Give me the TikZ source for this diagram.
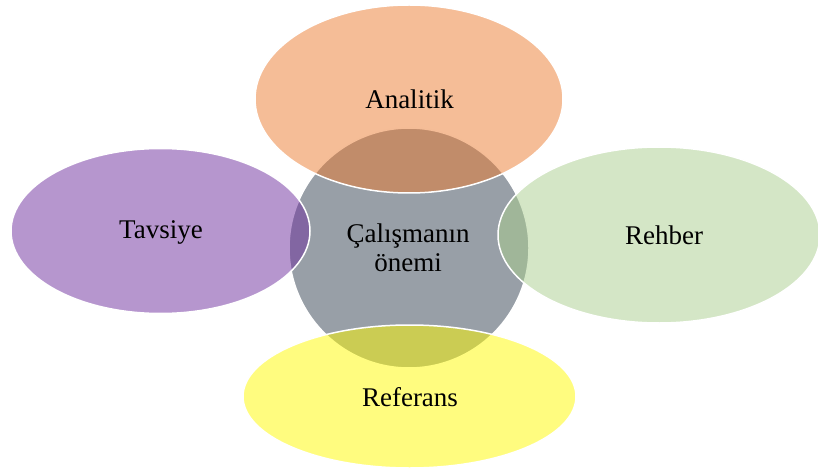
\documentclass[tikz,border=0pt]{standalone}
\usepackage{fontspec}
\setmainfont{Liberation Serif}
\definecolor{hubgray}{RGB}{152,159,167}
\definecolor{accorange}{RGB}{235,123,47}
\definecolor{accpurple}{RGB}{110,46,158}
\definecolor{accgreen}{RGB}{169,205,141}
\definecolor{accyellow}{RGB}{255,250,0}
\tikzset{
  hub/.style={circle, fill=hubgray, draw=white, line width=1.5pt, inner sep=0pt},
  petal/.style={ellipse, fill opacity=0.5, draw=white, draw opacity=1, line width=1.5pt,
    text opacity=1, text=black, inner sep=0pt},
  hubtext/.style={align=center, text=black, font=\fontsize{27}{29}\selectfont}
}
\usetikzlibrary{shapes.geometric}
\begin{document}
\begin{tikzpicture}[x=1pt, y=-1pt]
  \useasboundingbox (0,0) rectangle (818,470);
  % central circle
  \node[hub, minimum size=240pt] (hub) at (409,248) {};
  % surrounding ellipses
  \node[petal, fill=accorange, minimum width=308pt, minimum height=188pt] (analitik) at (409,99) {};
  \node[petal, fill=accpurple, minimum width=299pt, minimum height=165pt] (tavsiye) at (160.5,231) {};
  \node[petal, fill=accgreen, minimum width=322pt, minimum height=176pt] (rehber) at (659,235) {};
  \node[petal, fill=accyellow, minimum width=333pt, minimum height=143pt] (referans) at (409.5,396.5) {};
  % labels
  \node[hubtext] at (408,248) {Çalışmanın\\önemi};
  \node[hubtext] at (409.5,99) {Analitik};
  \node[hubtext] at (161,232.5) {Tavsiye};
  \node[hubtext] at (664,235) {Rehber};
  \node[hubtext] at (410,397) {Referans};
\end{tikzpicture}
\end{document}
